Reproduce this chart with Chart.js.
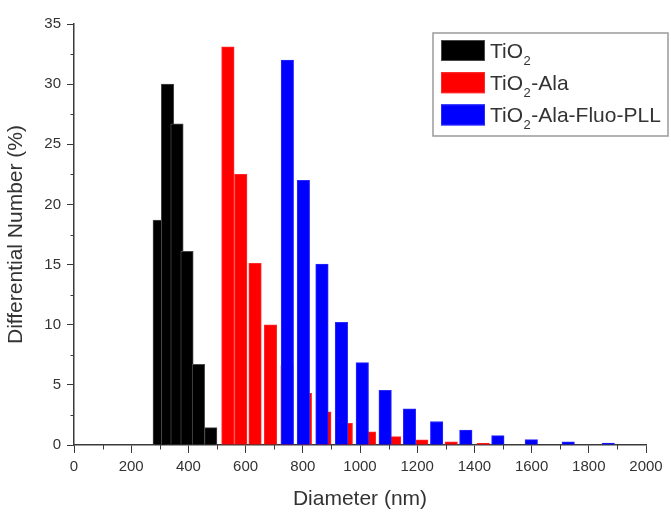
<!DOCTYPE html>
<html>
<head>
<meta charset="utf-8">
<script src="https://cdn.jsdelivr.net/npm/chart.js@4"></script>
<style>
  html, body { margin: 0; padding: 0; background: #fff; }
  #wrap { width: 671px; height: 512px; }
</style>
</head>
<body>
<div id="wrap"><canvas id="dls"></canvas></div>
<script>
// === DATEN: Größenverteilung (Differential Number) ===
// Durchmesser in nm (Mitte der Säule), Anteil in %
const tio2Diameter = [298, 327, 360, 395, 435, 478];
const tio2Number   = [18.7, 30.0, 26.7, 16.1, 6.7, 1.45];

const alaDiameter = [538, 583, 633, 687, 745, 809, 877, 952, 1033, 1121, 1216, 1319, 1431];
const alaNumber   = [33.1, 22.5, 15.1, 10.0, 6.6, 4.3, 2.75, 1.8, 1.1, 0.7, 0.42, 0.27, 0.14];

const pllDiameter = [746, 802, 867, 935, 1008, 1088, 1173, 1268, 1370, 1482, 1599, 1728, 1868];
const pllNumber   = [32.0, 22.0, 15.05, 10.2, 6.85, 4.55, 3.0, 1.95, 1.25, 0.78, 0.45, 0.27, 0.17];

const seriesLabels = ['TiO₂', 'TiO₂-Ala', 'TiO₂-Ala-Fluo-PLL'];

// Achsenbeschriftung
const xTickValues = [0, 200, 400, 600, 800, 1000, 1200, 1400, 1600, 1800, 2000];
const yTickValues = [0, 5, 10, 15, 20, 25, 30, 35];

const FONT = "'Liberation Sans', Arial, sans-serif";
const AXIS_COLOR = '#3a3a3a';
const TEXT_COLOR = '#333';

// Zwischenstriche (kurz) jeweils in der Mitte zwischen zwei Hauptstrichen
const xMinor = xTickValues.slice(0, -1).map((v, i) => (v + xTickValues[i + 1]) / 2);
const yMinor = yTickValues.slice(0, -1).map((v, i) => (v + yTickValues[i + 1]) / 2);

function toPoints(xs, ys) {
  return xs.map((x, i) => ({ x: x, y: ys[i] }));
}

// === PLUGIN: kurze Nebenstriche an beiden Achsen ===
const minorTicks = {
  id: 'minorTicks',
  afterDraw(chart) {
    const { ctx, scales: { x, y } } = chart;
    ctx.save();
    ctx.strokeStyle = AXIS_COLOR;
    ctx.lineWidth = 1;
    ctx.beginPath();
    xMinor.forEach(v => {
      const px = Math.round(x.getPixelForValue(v)) + 0.5;
      ctx.moveTo(px, x.top);
      ctx.lineTo(px, x.top + 4.5);
    });
    yMinor.forEach(v => {
      const py = Math.round(y.getPixelForValue(v)) + 0.5;
      ctx.moveTo(y.right, py);
      ctx.lineTo(y.right - 3.5, py);
    });
    ctx.stroke();
    ctx.restore();
  }
};

// Text mit tiefgestellter 2 (TiO₂) zeichnen
function drawChemLabel(ctx, text, x, yBase) {
  const parts = text.split('₂');
  let cx = x;
  parts.forEach((part, i) => {
    ctx.font = '21px ' + FONT;
    ctx.fillText(part, cx, yBase);
    cx += ctx.measureText(part).width;
    if (i < parts.length - 1) {
      ctx.font = '13px ' + FONT;
      ctx.fillText('2', cx + 0.5, yBase + 7);
      cx += ctx.measureText('2').width + 1;
    }
  });
}

// === PLUGIN: Legende im Rahmen oben rechts (wie im Origin-Plot) ===
const boxLegend = {
  id: 'boxLegend',
  afterDraw(chart) {
    const ctx = chart.ctx;
    const area = chart.chartArea;
    const left = area.right - 213;
    const top = area.top + 9;
    const width = 235;
    const height = 103;

    ctx.save();
    ctx.fillStyle = '#fff';
    ctx.fillRect(left, top, width, height);
    ctx.strokeStyle = '#9a9a9a';
    ctx.lineWidth = 1.5;
    ctx.strokeRect(left, top, width, height);

    chart.data.datasets.forEach((ds, i) => {
      const rowTop = top + 7 + i * 32.2;
      ctx.fillStyle = ds.backgroundColor;
      ctx.fillRect(left + 8, rowTop, 44, 21);
      ctx.strokeStyle = ds.borderColor;
      ctx.lineWidth = 1;
      ctx.strokeRect(left + 8.5, rowTop + 0.5, 43, 20);

      ctx.fillStyle = TEXT_COLOR;
      ctx.textBaseline = 'alphabetic';
      drawChemLabel(ctx, ds.label, left + 57, rowTop + 10.5 + 7.5);
    });
    ctx.restore();
  }
};

const axisFont = { family: FONT, size: 15 };
const titleFont = { family: FONT, size: 21 };

new Chart(document.getElementById('dls'), {
  type: 'bar',
  data: {
    datasets: [
      {
        label: seriesLabels[0],
        data: toPoints(tio2Diameter, tio2Number),
        backgroundColor: '#000000',
        borderColor: '#4a4a4a',
        borderWidth: 1,
        order: 3               // ganz unten zeichnen
      },
      {
        label: seriesLabels[1],
        data: toPoints(alaDiameter, alaNumber),
        backgroundColor: '#ff0000',
        borderColor: '#ff2a2a',
        borderWidth: 1,
        order: 2
      },
      {
        label: seriesLabels[2],
        data: toPoints(pllDiameter, pllNumber),
        backgroundColor: '#0000ff',
        borderColor: '#2a2aff',
        borderWidth: 1,
        order: 1               // blau liegt oben
      }
    ]
  },
  options: {
    responsive: true,
    maintainAspectRatio: false,
    animation: false,
    layout: { padding: { left: 0, right: 25, top: 24, bottom: 0 } },
    datasets: { bar: { grouped: false, barThickness: 12.5 } },  // feste Säulenbreite wie im Original
    plugins: {
      legend: { display: false },
      tooltip: { enabled: false }
    },
    scales: {
      x: {
        type: 'linear',
        min: 0,
        max: 2000,
        offset: false,
        grid: { drawOnChartArea: false, tickLength: 8, color: AXIS_COLOR, offset: false },
        border: { display: true, color: AXIS_COLOR, width: 1.5 },
        ticks: { color: TEXT_COLOR, font: axisFont, padding: 5, maxRotation: 0, autoSkip: false,
                 callback: v => String(v) },   // ohne Tausenderpunkt
        title: { display: true, text: 'Diameter (nm)', color: TEXT_COLOR, font: titleFont, padding: 0 },
        afterBuildTicks: s => { s.ticks = xTickValues.map(v => ({ value: v })); },
        afterFit: s => { s.height = 67; }
      },
      y: {
        min: 0,
        max: 35,
        stacked: false,
        grid: { drawOnChartArea: false, tickLength: 7, color: AXIS_COLOR },
        border: { display: true, color: AXIS_COLOR, width: 1.5 },
        ticks: { color: TEXT_COLOR, font: axisFont, padding: 6, callback: v => String(v) },
        title: { display: true, text: 'Differential Number (%)', color: TEXT_COLOR, font: titleFont, padding: { top: 4, bottom: 0 } },
        afterBuildTicks: s => { s.ticks = yTickValues.map(v => ({ value: v })); },
        afterFit: s => { s.width = 74; }
      }
    }
  },
  plugins: [minorTicks, boxLegend]
});
</script>
</body>
</html>
